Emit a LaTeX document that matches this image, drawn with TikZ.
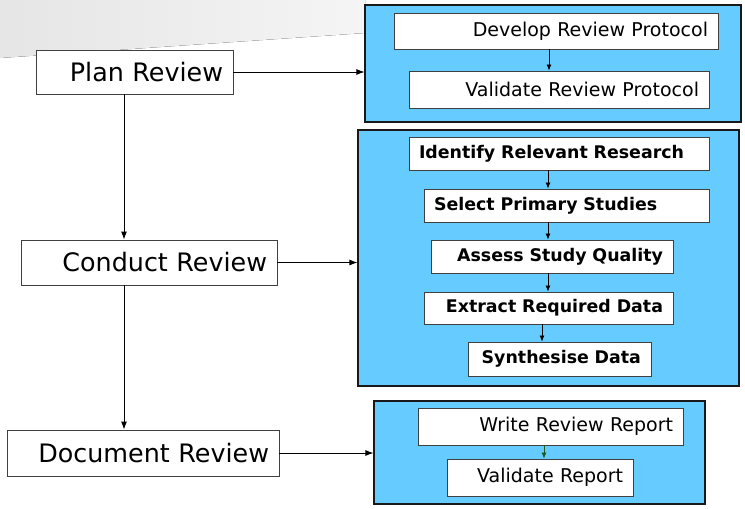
\documentclass[tikz,border=0pt]{standalone}
\usepackage{fontspec}
\setmainfont{DejaVu Sans}
\usetikzlibrary{arrows.meta, positioning}

\definecolor{panelblue}{HTML}{66CCFF}
\definecolor{arrowgreen}{HTML}{1E5A1E}

\begin{document}
\begin{tikzpicture}[x=1pt, y=-1pt,
  every node/.style={align=center},
  % Phases (left column) - plain white boxes
  phase/.style={rectangle, draw=black!75, fill=white, line width=0.9pt, inner xsep=10pt, align=right, font=\fontsize{25.4}{28}\selectfont},
  % Panels holding the steps - blue fill, dark outline
  panel/.style={rectangle, draw=black!90, fill=panelblue, line width=1.1pt, inner sep=0pt},
  % Steps inside a panel
  stepbox/.style={rectangle, draw=black!75, fill=white, line width=0.9pt, inner xsep=10pt, align=right, font=\fontsize{19}{22}\selectfont},
  boldstep/.style={stepbox, font=\fontsize{17.4}{20}\bfseries\selectfont},
  link/.style={-{Latex[length=8pt, width=6pt]}, line width=0.9pt, draw=black},
  sublink/.style={-{Latex[length=6pt, width=5pt]}, line width=0.8pt, draw=black}
]
\useasboundingbox (0,0) rectangle (745,509);

% background swoosh
\fill[left color=gray!20, right color=gray!8] (0,0) -- (365,0) -- (365,33) -- (0,58) -- cycle;

% === PHASES ===
\node[phase, text width=177pt, minimum height=44pt] (plan) at (134.5,72) {Plan Review};
\node[phase, text width=236pt, minimum height=45pt] (conduct) at (149,262.5) {Conduct Review};
\node[phase, text width=252pt, minimum height=46pt] (document) at (143,453) {Document Review};

\coordinate (spine) at (124,0);

% === PANELS ===
\node[panel, minimum width=376pt, minimum height=117pt] (protocol) at (553,63.5) {};
\node[panel, minimum width=381pt, minimum height=256pt] (research) at (548.5,258) {};
\node[panel, minimum width=331pt, minimum height=103pt] (report) at (539.5,452.5) {};

% Plan steps
\node[stepbox, text width=304pt, minimum height=36pt] (develop) at (556,31) {Develop Review Protocol};
\node[stepbox, text width=280pt, minimum height=37pt] (validprot) at (559,89.5) {Validate Review Protocol};

% Conduct steps
\node[boldstep, align=left, text width=280pt, minimum height=33pt] (identify) at (559,153.5) {Identify Relevant Research};
\node[boldstep, align=left, text width=265pt, minimum height=33pt] (select) at (566.5,205.5) {Select Primary Studies};
\node[boldstep, text width=222pt, minimum height=33pt] (assess) at (552,256.5) {Assess Study Quality};
\node[boldstep, text width=229pt, minimum height=32pt] (extract) at (548.5,308) {Extract Required Data};
\node[boldstep, text width=163pt, minimum height=34pt] (synth) at (559.5,359) {Synthesise Data};

% Document steps
\node[stepbox, text width=245pt, minimum height=37pt] (write) at (550.5,426.5) {Write Review Report};
\node[stepbox, text width=166pt, minimum height=37pt] (validrep) at (540,477.5) {Validate Report};

\coordinate (colA) at (549,0);
\coordinate (colB) at (548,0);
\coordinate (colC) at (542,0);
\coordinate (colD) at (544,0);

% === EDGES ===
\draw[link] (plan.south -| spine) -- (conduct.north -| spine);
\draw[link] (conduct.south -| spine) -- (document.north -| spine);

\draw[link] (plan.east) -- (plan.east -| protocol.west);
\draw[link] (conduct.east) -- (conduct.east -| research.west);
\draw[link] (document.east) -- (document.east -| report.west);

\draw[sublink] (develop.south -| colA) -- (validprot.north -| colA);
\draw[sublink] (identify.south -| colB) -- (select.north -| colB);
\draw[sublink] (select.south -| colB) -- (assess.north -| colB);
\draw[sublink] (assess.south -| colB) -- (extract.north -| colB);
\draw[sublink] (extract.south -| colC) -- (synth.north -| colC);
\draw[sublink, draw=arrowgreen] (write.south -| colD) -- (validrep.north -| colD);

\end{tikzpicture}
\end{document}
